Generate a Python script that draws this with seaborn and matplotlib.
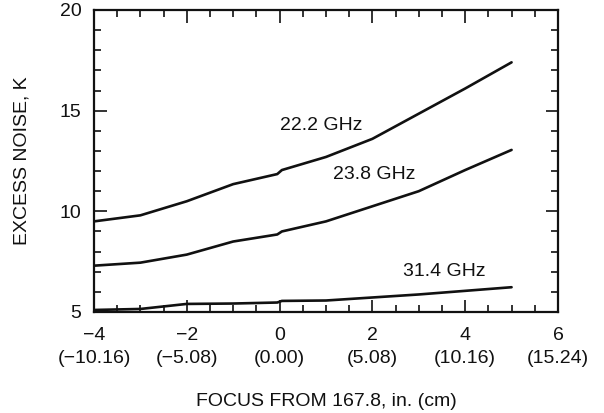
import seaborn as sns
import matplotlib.pyplot as plt
import pandas as pd
from matplotlib.ticker import MultipleLocator


focus_in = [-4, -3, -2, -1, -0.05, 0.05, 1, 2, 3, 4, 5]
noise_222 = [9.5, 9.8, 10.5, 11.35, 11.85, 12.05, 12.7, 13.6, 14.85, 16.1, 17.4]
noise_238 = [7.3, 7.45, 7.85, 8.5, 8.85, 9.0, 9.5, 10.25, 11.0, 12.05, 13.05]
noise_314 = [5.1, 5.15, 5.4, 5.42, 5.47, 5.55, 5.57, 5.72, 5.87, 6.05, 6.23]
series_names = ['22.2 GHz', '23.8 GHz', '31.4 GHz']
label_pos = [(0.9, 14.25), (2.05, 11.85), (3.55, 7.0)]

xticks = [-4, -2, 0, 2, 4, 6]
xtick_cm = ['(\u221210.16)', '(\u22125.08)', '(0.00)', '(5.08)', '(10.16)', '(15.24)']

df = pd.DataFrame({
    'focus': focus_in * 3,
    'noise': noise_222 + noise_238 + noise_314,
    'freq': [n for n in series_names for _ in focus_in],
})

sns.set_style('ticks')
plt.rcParams['font.family'] = ['Liberation Sans', 'DejaVu Sans']
fs = 14

fig = plt.figure(figsize=(6.04, 4.13), dpi=100)
ax = fig.add_axes([0.1556, 0.2446, 0.7682, 0.7312])

sns.lineplot(data=df, x='focus', y='noise', units='freq', estimator=None,
             color='#111111', linewidth=1.9, ax=ax, legend=False)

for name, (lx, ly) in zip(series_names, label_pos):
    ax.text(lx, ly, name, ha='center', va='center', fontsize=fs, color='#111111')

ax.set_xlim(-4, 6)
ax.set_ylim(5, 20)
ax.set_xticks(xticks)
ax.set_xticklabels([f"{str(t).replace('-', chr(0x2212))}\n{c}" for t, c in zip(xticks, xtick_cm)],
                   linespacing=1.45)
ax.xaxis.set_minor_locator(MultipleLocator(0.5))
ax.set_yticks([5, 10, 15, 20])
ax.yaxis.set_minor_locator(MultipleLocator(1))

ax.tick_params(which='both', direction='in', top=True, right=True, width=1.2,
               labelsize=fs, colors='#111111')
ax.tick_params(which='major', length=9)
ax.tick_params(which='minor', length=5)
ax.tick_params(axis='x', pad=11)
ax.tick_params(axis='y', pad=9)
for sp in ax.spines.values():
    sp.set_linewidth(1.6)
    sp.set_color('#111111')

ax.set_xlabel('FOCUS FROM 167.8, in. (cm)', fontsize=fs, labelpad=19, color='#111111')
ax.set_ylabel('EXCESS NOISE, K', fontsize=fs, labelpad=21, color='#111111')

fig.savefig('out.png', dpi=100)
